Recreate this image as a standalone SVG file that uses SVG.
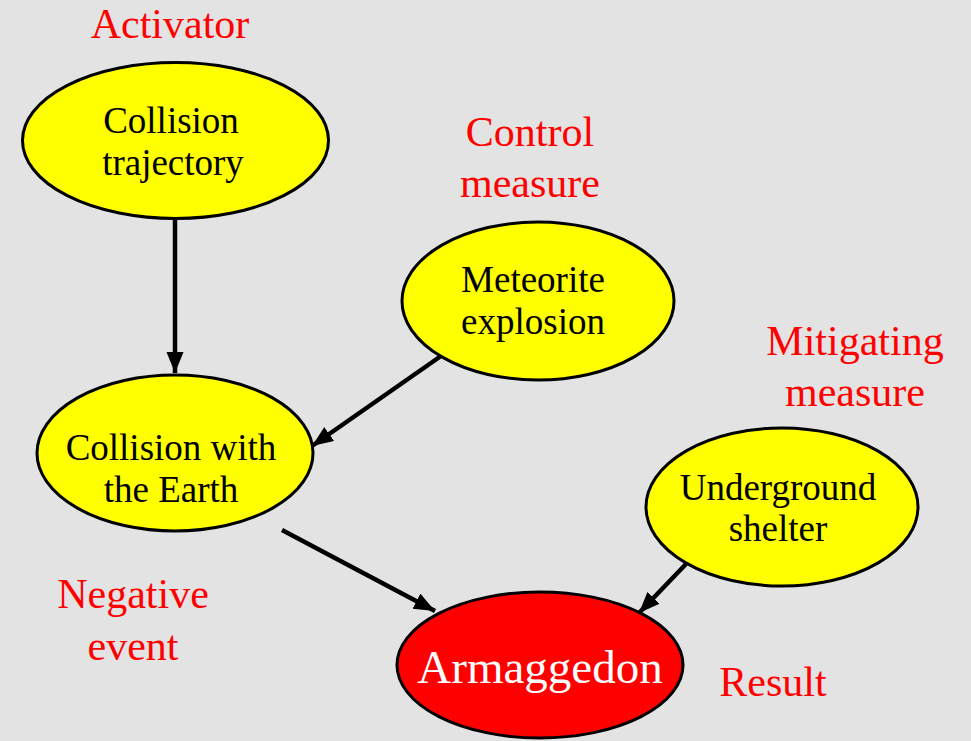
<svg xmlns="http://www.w3.org/2000/svg" width="971" height="741" viewBox="0 0 971 741">
  <style>
    .node { fill: #ffff00; stroke: #000; stroke-width: 3; }
    .result { fill: #ff0000; stroke: #000; stroke-width: 3; }
    .t { font-family: "Liberation Serif", "Times New Roman", serif; font-size: 37px; fill: #000; text-anchor: middle; }
    .big { font-family: "Liberation Serif", "Times New Roman", serif; font-size: 47px; fill: #fff; text-anchor: middle; }
    .lbl { font-family: "Liberation Serif", "Times New Roman", serif; font-size: 42px; fill: #ff0000; text-anchor: middle; }
    .edge { stroke: #000; stroke-width: 4.5; fill: none; marker-end: url(#arrow); }
  </style>
  <defs>
    <marker id="arrow" markerUnits="userSpaceOnUse" markerWidth="22" markerHeight="18" refX="21" refY="8.5" orient="auto">
      <path d="M0,0 L21,8.5 L0,17 Z" fill="#000"/>
    </marker>
  </defs>
  <rect width="971" height="741" fill="#e3e3e3"/>

  <g id="edges">
    <line class="edge" x1="175" y1="220" x2="175" y2="373"/>
    <line class="edge" x1="441" y1="356" x2="312" y2="446"/>
    <line class="edge" x1="282" y1="530" x2="435" y2="611"/>
    <line class="edge" x1="686" y1="564" x2="639" y2="613"/>
  </g>

  <g id="activator">
    <ellipse class="node" cx="175.5" cy="140.5" rx="153" ry="78"/>
    <text class="t" x="171" y="133">Collision</text>
    <text class="t" x="173" y="175">trajectory</text>
  </g>

  <g id="control">
    <ellipse class="node" cx="538" cy="301" rx="136" ry="79"/>
    <text class="t" x="533" y="292">Meteorite</text>
    <text class="t" x="533" y="334">explosion</text>
  </g>

  <g id="negative-event">
    <ellipse class="node" cx="175" cy="453" rx="138" ry="78"/>
    <text class="t" x="171" y="460">Collision with</text>
    <text class="t" x="171" y="502">the Earth</text>
  </g>

  <g id="mitigating">
    <ellipse class="node" cx="782" cy="507" rx="136" ry="79"/>
    <text class="t" x="778" y="500">Underground</text>
    <text class="t" x="778" y="541">shelter</text>
  </g>

  <g id="result">
    <ellipse class="result" cx="540" cy="665" rx="143" ry="73"/>
    <text class="big" x="540" y="683">Armaggedon</text>
  </g>

  <g id="labels">
    <text class="lbl" x="170" y="38">Activator</text>
    <text class="lbl" x="530" y="146">Control</text>
    <text class="lbl" x="530" y="197">measure</text>
    <text class="lbl" x="855" y="355">Mitigating</text>
    <text class="lbl" x="855" y="406">measure</text>
    <text class="lbl" x="133" y="608">Negative</text>
    <text class="lbl" x="133" y="660">event</text>
    <text class="lbl" x="773" y="696">Result</text>
  </g>
</svg>
